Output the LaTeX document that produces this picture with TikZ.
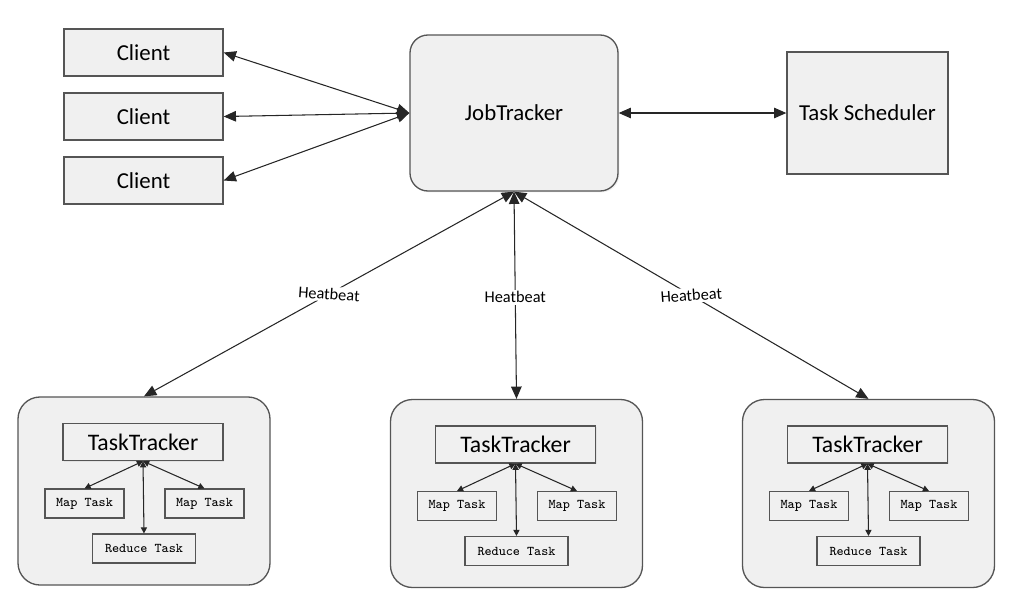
\documentclass[tikz,border=0pt]{standalone}
\usepackage{fontspec}
\setmainfont{Carlito}
\usetikzlibrary{arrows.meta,shadows}

\definecolor{boxfill}{HTML}{F0F0F0}
\definecolor{boxline}{HTML}{555555}

\begin{document}
\begin{tikzpicture}[x=0.02cm,y=-0.02cm,  % one unit = one pixel of the sketch
    block/.style={
      rectangle,draw=boxline,fill=boxfill,
      line width=0.75pt,
      font=\fontsize{13}{15}\selectfont,
      drop shadow={opacity=0.12,shadow xshift=0.8pt,shadow yshift=-0.8pt}
    },
    roundblock/.style={
      block,rounded corners=0.36cm
    },
    worker/.style={
      rectangle,draw=boxline,fill=boxfill,
      line width=0.75pt,rounded corners=0.44cm,
      minimum width=252*0.02cm,minimum height=188*0.02cm
    },
    tracker/.style={
      block,
      minimum width=160*0.02cm,minimum height=37*0.02cm,
      font=\fontsize{13.5}{15}\selectfont
    },
    task/.style={
      rectangle,draw=boxline,fill=boxfill,
      line width=0.6pt,
      minimum height=29*0.02cm,
      font=\ttfamily\fontsize{7.6}{9}\selectfont
    },
    link/.style={
      {Triangle[length=7pt,width=6pt]}-{Triangle[length=7pt,width=6pt]},
      line width=0.6pt,draw=black!85
    },
    sublink/.style={
      {Triangle[length=3.5pt,width=3.5pt]}-{Triangle[length=3.5pt,width=3.5pt]},
      line width=0.6pt,draw=black!85
    },
    beat/.style={
      fill=white,inner sep=1pt,
      font=\fontsize{9.3}{11}\selectfont
    }
  ]

    \useasboundingbox (0,0) rectangle (1017,596);

    % Clients on the left
    \foreach \c/\y in {1/52.5,2/116.5,3/180.5} {
      \node[block,minimum width=159*0.02cm,minimum height=47*0.02cm]
        (client\c) at (143.5,\y) {Client};
    }

    % Master and scheduler
    \node[roundblock,minimum width=208*0.02cm,minimum height=156*0.02cm]
      (jt) at (514,113) {JobTracker};
    \node[block,minimum width=161*0.02cm,minimum height=122*0.02cm]
      (sched) at (867.5,113) {Task Scheduler};

    \foreach \c in {1,2,3} {
      \draw[link] (client\c.east) -- (jt.west);
    }
    \draw[link] (jt.east) -- (sched.west);

    % Worker nodes
    \foreach \i/\cx/\cy in {1/144/491,2/516.5/493.5,3/868.5/493.5} {
      \node[worker] (box\i) at (\cx,\cy) {};
      \node[tracker] (tt\i) at (\cx-1,\cy-49) {TaskTracker};
      \node[task,minimum width=79*0.02cm] (mapa\i) at (\cx-59.5,\cy+12.5) {Map Task};
      \node[task,minimum width=79*0.02cm] (mapb\i) at (\cx+60.5,\cy+12.5) {Map Task};
      \node[task,minimum width=103*0.02cm] (red\i) at (\cx,\cy+57.5) {Reduce Task};
      \draw[sublink] (tt\i.south) -- (mapa\i.north);
      \draw[sublink] (tt\i.south) -- (mapb\i.north);
      \draw[sublink] (tt\i.south) -- (red\i.north);
    }

    % Heartbeats
    \draw[link] (jt.south) -- (box1.north)
      node[beat,pos=0.5,rotate=-4] {Heatbeat};
    \draw[link] (jt.south) -- (box2.north)
      node[beat,pos=0.51] {Heatbeat};
    \draw[link] (jt.south) -- (box3.north)
      node[beat,pos=0.5,rotate=4] {Heatbeat};

\end{tikzpicture}
\end{document}
